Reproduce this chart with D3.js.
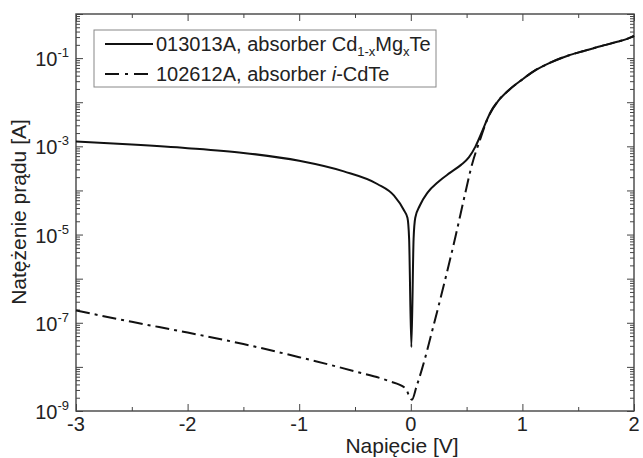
<!DOCTYPE html>
<html>
<head>
<meta charset="utf-8">
<script src="https://cdn.jsdelivr.net/npm/d3@7"></script>
<style>
body { margin: 0; background: #fff; }
text { font-family: Arial, "Liberation Sans", sans-serif; fill: #222; }
.tick line { stroke: #444; stroke-width: 1; }
</style>
</head>
<body>
<svg id="chart"></svg>
<script>
/*
	I-V curves, log scale
*/

var W = 643, H = 458;

// 013013A, absorber Cd1-xMgxTe
var voltsA = [-3, -2.5, -2, -1.5, -1, -0.6, -0.3, -0.15, -0.06, -0.03, -0.015, 0.005, 0.025, 0.04,
	0.08, 0.15, 0.25, 0.35, 0.45, 0.52, 0.58, 0.64, 0.70, 0.78, 0.88, 1.0, 1.1, 1.25, 1.4, 1.55, 1.7, 1.85, 1.95, 2.0];
var currentA = [1.29e-3, 1.10e-3, 9.1e-4, 7.1e-4, 4.7e-4, 2.7e-4, 1.4e-4, 7.6e-5, 3.5e-5, 2.4e-5, 7.9e-6, 2.8e-8, 7.9e-6, 2.4e-5,
	4.5e-5, 8.9e-5, 1.6e-4, 2.5e-4, 3.8e-4, 5.6e-4, 1.0e-3, 2.2e-3, 5.0e-3, 1.05e-2, 1.9e-2, 3.3e-2, 5.0e-2, 7.9e-2, 0.112, 0.145, 0.186, 0.234, 0.28, 0.32];

// 102612A, absorber i-CdTe
var voltsB = [-3, -2.5, -2, -1.5, -1, -0.5, -0.2, -0.05, 0.01, 0.05, 0.1, 0.2, 0.3, 0.4, 0.48, 0.55, 0.62, 0.68, 0.72,
	0.78, 0.88, 1.0, 1.1, 1.25, 1.4, 1.55, 1.7, 1.85, 1.95, 2.0];
var currentB = [1.9e-7, 1.05e-7, 6.0e-8, 3.3e-8, 1.66e-8, 7.9e-9, 4.8e-9, 3.3e-9, 1.8e-9, 3.5e-9, 8.9e-9, 7.9e-8, 7.9e-7, 8.9e-6, 7.1e-5, 4.0e-4, 1.4e-3, 3.8e-3, 6.3e-3,
	1.05e-2, 1.9e-2, 3.3e-2, 5.0e-2, 7.9e-2, 0.112, 0.145, 0.186, 0.234, 0.28, 0.32];

var xMajor = [-3, -2, -1, 0, 1, 2];
var xMinor = [-2.5, -1.5, -0.5, 0.5, 1.5];
var yLabelled = [1e-9, 1e-7, 1e-5, 1e-3, 1e-1];

var legendA = [{t: "013013A, absorber Cd"}, {t: "1-x", sub: true}, {t: "Mg"}, {t: "x", sub: true}, {t: "Te"}];
var legendB = [{t: "102612A, absorber "}, {t: "i", it: true}, {t: "-CdTe"}];

var svg = d3.select("#chart").attr("width", W).attr("height", H);

var x = d3.scaleLinear().domain([-3, 2]).range([76, 634]);
var y = d3.scaleLog().domain([1e-9, 1]).range([411, 14]);

function isDecade(v) { var l = Math.log10(v); return Math.abs(l - Math.round(l)) < 1e-6; }
var yAll = y.ticks();
var yMaj = yAll.filter(isDecade);
var yMin = yAll.filter(function(v) { return !isDecade(v); });

//ticks on all four sides, pointing inside
function ticks(gen, tr, vals, len) {
	var g = svg.append("g").attr("transform", tr)
		.call(gen.tickValues(vals).tickSize(-len).tickFormat(""));
	g.select(".domain").remove();
}
ticks(d3.axisLeft(y), "translate(76,0)", yMaj, 7);
ticks(d3.axisLeft(y), "translate(76,0)", yMin, 4);
ticks(d3.axisRight(y), "translate(634,0)", yMaj, 7);
ticks(d3.axisRight(y), "translate(634,0)", yMin, 4);
ticks(d3.axisBottom(x), "translate(0,411)", xMajor, 7);
ticks(d3.axisBottom(x), "translate(0,411)", xMinor, 4);
ticks(d3.axisTop(x), "translate(0,14)", xMajor, 7);
ticks(d3.axisTop(x), "translate(0,14)", xMinor, 4);

//frame
svg.append("rect").attr("x", 76).attr("y", 14).attr("width", 558).attr("height", 397)
	.style("fill", "none").style("stroke", "#444").style("stroke-width", 1.4);

//tick labels
svg.selectAll(".xl").data(xMajor).enter().append("text")
	.attr("x", function(d) { return x(d); })
	.attr("y", 431)
	.attr("font-size", "20px")
	.style("text-anchor", "middle")
	.text(function(d) { return String(d); });

var yl = svg.selectAll(".yl").data(yLabelled).enter().append("text")
	.attr("x", 69)
	.attr("y", function(d) { return y(d) + 8; })
	.attr("font-size", "20px")
	.style("text-anchor", "end");
yl.append("tspan").text("10");
yl.append("tspan").attr("font-size", "13px").attr("dy", -9)
	.text(function(d) { return String(Math.round(Math.log10(d))); });

//axis titles
svg.append("text").attr("x", 402).attr("y", 453).attr("font-size", "21px")
	.style("text-anchor", "middle").text("Napięcie [V]");
svg.append("text").attr("transform", "translate(26,212) rotate(-90)").attr("font-size", "21px")
	.style("text-anchor", "middle").text("Natężenie prądu [A]");

//curves
var line = d3.line().curve(d3.curveMonotoneX)
	.x(function(d) { return x(d[0]); }).y(function(d) { return y(d[1]); });
svg.append("path").datum(d3.zip(voltsB, currentB)).attr("d", line)
	.style("fill", "none").style("stroke", "#111").style("stroke-width", 2)
	.style("stroke-dasharray", "14,5,3,5");
svg.append("path").datum(d3.zip(voltsA, currentA)).attr("d", line)
	.style("fill", "none").style("stroke", "#111").style("stroke-width", 2);

//legend
svg.append("rect").attr("x", 94).attr("y", 30).attr("width", 342).attr("height", 57)
	.style("fill", "#fff").style("stroke", "#888").style("stroke-width", 1);
var rows = [{parts: legendA, dash: null, cy: 44}, {parts: legendB, dash: "14,6,3,6", cy: 74}];
rows.forEach(function(r) {
	svg.append("line").attr("x1", 105).attr("x2", 153).attr("y1", r.cy).attr("y2", r.cy)
		.style("stroke", "#111").style("stroke-width", 2)
		.style("stroke-dasharray", r.dash);
	var t = svg.append("text").attr("x", 156).attr("y", r.cy + 7).attr("font-size", "20px");
	r.parts.forEach(function(p, i) {
		var s = t.append("tspan").text(p.t);
		if (p.it) s.style("font-style", "italic");
		if (p.sub) s.attr("font-size", "13px").attr("dy", 5);
		else if (i > 0 && r.parts[i - 1].sub) s.attr("dy", -5);
	});
});
</script>
</body>
</html>
